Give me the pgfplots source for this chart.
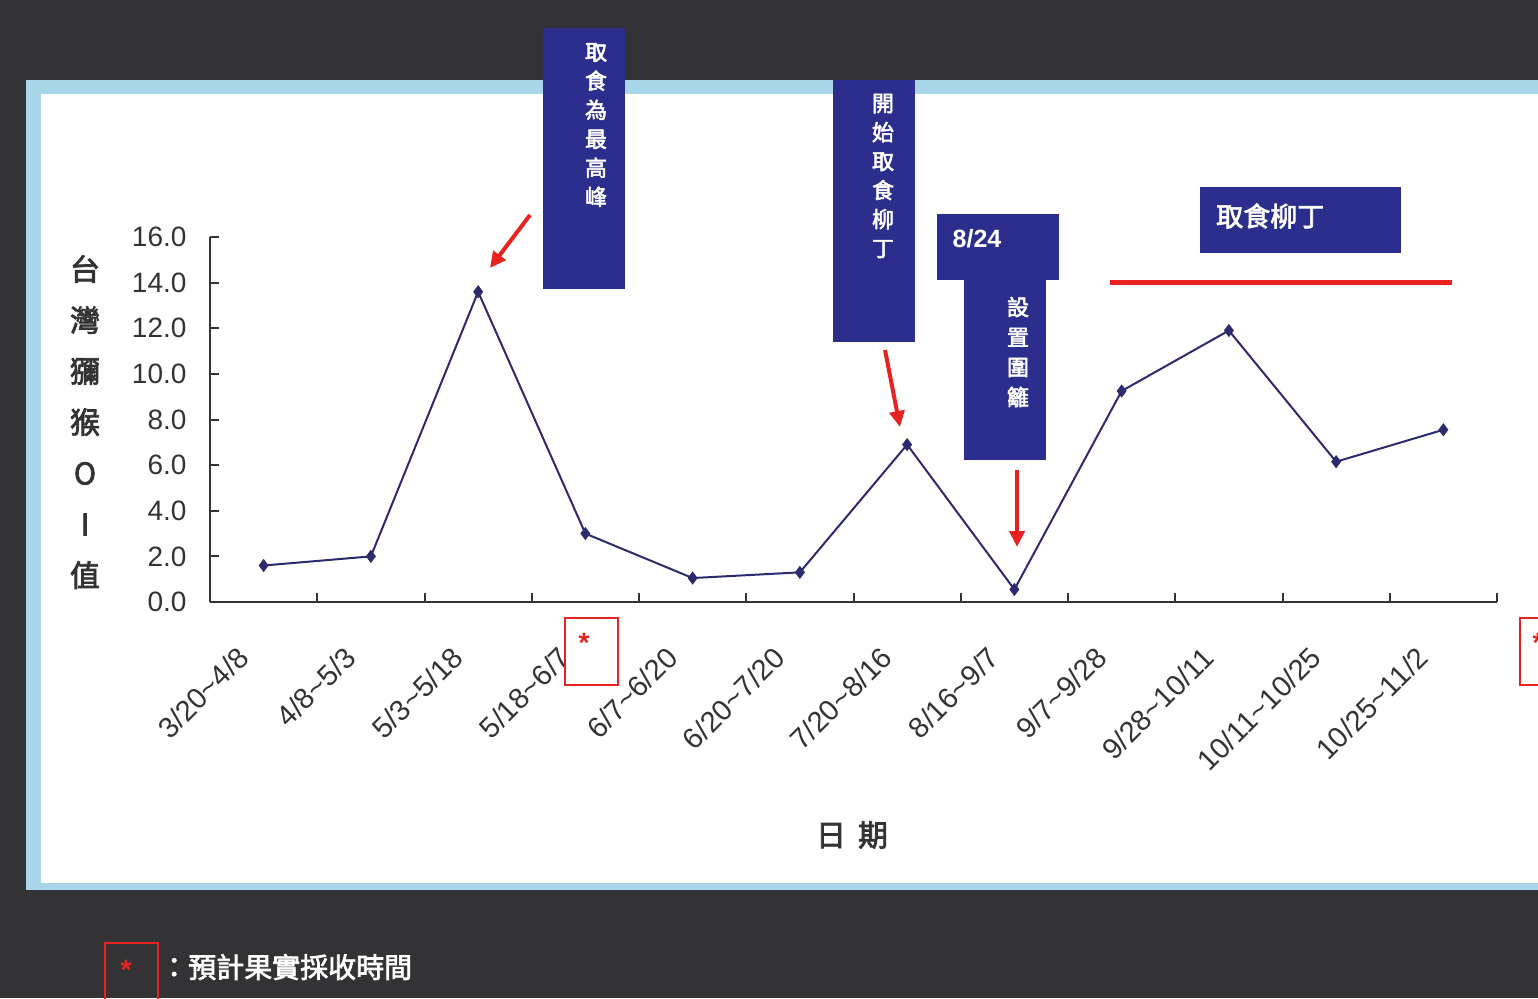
\documentclass[border=0pt]{standalone}
\usepackage{pgfplots}
\pgfplotsset{compat=1.18}
\usepackage{fontspec}
\setmainfont{Liberation Sans}
\newfontfamily\cjk{Noto Sans CJK TC}
\newfontfamily\cjkb[FakeBold=2.5]{Noto Sans CJK TC}
\usetikzlibrary{arrows.meta}
\definecolor{bgdark}{HTML}{333336}
\definecolor{panelblue}{HTML}{A9D5E9}
\definecolor{boxblue}{HTML}{2B2E8C}
\definecolor{arrred}{HTML}{E8231F}
\definecolor{linenavy}{HTML}{2B2B6E}
\definecolor{axgray}{HTML}{333333}

\begin{document}
\begin{tikzpicture}
\useasboundingbox (0pt,0pt) rectangle (1538pt,-998pt);
\clip (0pt,0pt) rectangle (1538pt,-998pt);
\begin{scope}[x=1pt,y=-1pt]
\fill[bgdark] (0,0) rectangle (1538,998);
\fill[panelblue] (26,80) rectangle (1545,890);
\fill[white] (41,94) rectangle (1545,883);
\end{scope}

\begin{axis}[
  at={(210pt,-602pt)}, anchor=south west,
  scale only axis, width=1287pt, height=365pt,
  xmin=-0.5, xmax=11.5, ymin=0, ymax=16,
  axis x line*=bottom, axis y line*=left,
  axis line style={line width=2.5pt, color=axgray},
  tick align=inside,
  tick style={line width=2pt, color=axgray},
  major tick length=9pt,
  xtick={-0.5,0.5,...,11.5},
  xticklabels={},
  extra x ticks={0,1,2,3,4,5,6,7,8,9,10,11},
  extra x tick labels={3/20\textasciitilde 4/8, 4/8\textasciitilde 5/3, 5/3\textasciitilde 5/18, 5/18\textasciitilde 6/7, 6/7\textasciitilde 6/20, 6/20\textasciitilde 7/20, 7/20\textasciitilde 8/16, 8/16\textasciitilde 9/7, 9/7\textasciitilde 9/28, 9/28\textasciitilde 10/11, 10/11\textasciitilde 10/25, 10/25\textasciitilde 11/2},
  extra x tick style={major tick length=0pt,
    xticklabel style={font=\fontsize{29}{31}\selectfont, text=axgray, xshift=-18pt, yshift=-48pt, rotate=45, anchor=east}},
  ytick={0,2,4,6,8,10,12,14,16},
  yticklabel style={font=\fontsize{28}{30}\selectfont, text=axgray, xshift=-20pt,
    /pgf/number format/.cd, fixed, fixed zerofill, precision=1, assume math mode=true},
]
\addplot[linenavy, line width=2pt, mark=diamond*, mark size=5pt, mark options={fill=linenavy, solid}]
  coordinates {(0,1.6)(1,2.0)(2,13.6)(3,3.0)(4,1.05)(5,1.3)(6,6.9)(7,0.55)(8,9.25)(9,11.9)(10,6.15)(11,7.55)};
\end{axis}

\begin{scope}[x=1pt,y=-1pt]
% axis titles
\node[text=axgray, align=center, font=\cjkb\fontsize{30}{51}\selectfont] at (85,422) {台\\灣\\獼\\猴\\O\\I\\值};
\node[text=axgray, font=\cjkb\fontsize{30}{32}\selectfont] at (852,835) {日\hspace{12pt}期};
% box 1
\fill[boxblue] (543,28) rectangle (625,289);
\node[text=white, align=center, font=\cjkb\fontsize{22}{29}\selectfont] at (596,125) {取\\食\\為\\最\\高\\峰};
% box 2
\fill[boxblue] (833,80) rectangle (915,342);
\node[text=white, align=center, font=\cjkb\fontsize{22}{29}\selectfont] at (883,176) {開\\始\\取\\食\\柳\\丁};
% box 3
\fill[boxblue] (937,214) rectangle (1059,280);
\fill[boxblue] (964,279) rectangle (1046,460);
\node[text=white, font=\bfseries\fontsize{25}{27}\selectfont] at (977,239) {8/24};
\node[text=white, align=center, font=\cjkb\fontsize{22}{30}\selectfont] at (1018,352) {設\\置\\圍\\籬};
% box 4
\fill[boxblue] (1200,187) rectangle (1401,253);
\node[text=white, anchor=west, inner sep=0pt, font=\cjkb\fontsize{27}{29}\selectfont] at (1216,216) {取食柳丁};
% red line and arrows
\draw[arrred, line width=5pt] (1110,282) -- (1452,282);
\draw[arrred, line width=4pt, -{Triangle[length=16pt,width=15pt]}] (530,215) -- (490,268);
\draw[arrred, line width=4pt, -{Triangle[length=16pt,width=15pt]}] (885,350) -- (900,427);
\draw[arrred, line width=4pt, -{Triangle[length=16pt,width=15pt]}] (1017,470) -- (1017,547);
% harvest markers
\draw[arrred, line width=2pt] (565,618) rectangle (618,685);
\node[text=arrred, font=\bfseries\fontsize{28}{28}\selectfont] at (584,643) {*};
\draw[arrred, line width=2pt] (1520,618) rectangle (1570,685);
\node[text=arrred, font=\bfseries\fontsize{28}{28}\selectfont] at (1538,643) {*};
% legend
\draw[arrred, line width=2pt] (105,943) rectangle (158,1010);
\node[text=arrred, font=\bfseries\fontsize{28}{28}\selectfont] at (126,970) {*};
\node[text=white, anchor=west, inner sep=0pt, font=\cjkb\fontsize{28}{30}\selectfont] at (160,967) {：預計果實採收時間};
\end{scope}
\end{tikzpicture}
\end{document}
